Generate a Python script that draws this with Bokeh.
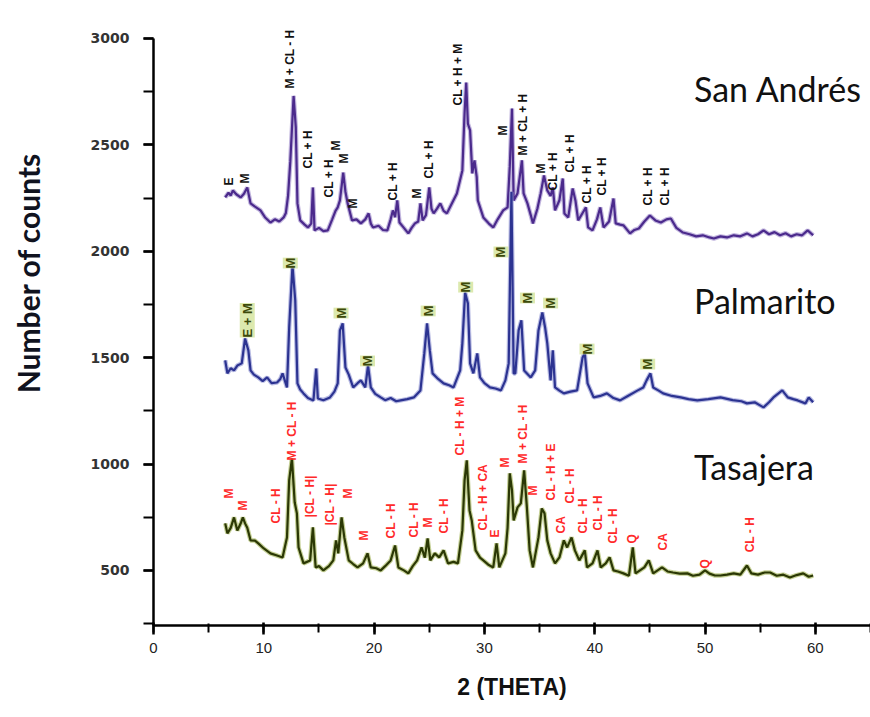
from math import pi
from bokeh.plotting import figure
from bokeh.models import Range1d, SingleIntervalTicker
from bokeh.core.properties import value
from bokeh.embed import file_html
from bokeh.resources import INLINE

# ---------------- data ----------------
sa_x = [6.5, 6.8, 7.0, 7.2, 7.5, 7.9, 8.2, 8.5, 8.8, 9.2, 9.7, 10.1, 10.6, 11.0, 11.4, 11.8, 12.0, 12.2, 12.4, 12.7,
        12.9, 13.05, 13.3, 13.7, 14.0, 14.3, 14.45, 14.6, 15.0, 15.4, 15.8, 16.2, 16.5, 16.7, 16.9, 17.2, 17.4, 17.6,
        18.0, 18.4, 18.8, 19.2, 19.5, 19.7, 19.9, 20.4, 20.8, 21.2, 21.5, 21.7, 21.9, 22.1, 22.3, 22.7, 23.1, 23.4,
        23.7, 24.0, 24.2, 24.4, 24.7, 25.0, 25.2, 25.4, 25.7, 26.0, 26.3, 26.6, 27.0, 27.5, 28.0, 28.2, 28.35, 28.5,
        28.7, 28.9, 29.1, 29.3, 29.4, 29.9, 30.4, 30.8, 31.2, 31.7, 32.1, 32.3, 32.5, 32.65, 33.0, 33.2, 33.4, 33.55,
        33.9, 34.2, 34.4, 34.8, 35.1, 35.4, 35.7, 36.0, 36.2, 36.4, 36.8, 37.1, 37.25, 37.6, 38.0, 38.25, 38.5, 38.9,
        39.2, 39.4, 39.8, 40.2, 40.5, 40.8, 41.3, 41.7, 41.9, 42.3, 42.6, 43.2, 43.6, 44.0, 44.5, 45.0, 45.5, 46.0,
        46.5, 46.9, 47.4, 48.0, 48.6, 49.2, 49.8, 50.4, 50.8, 51.4, 52.0, 52.6, 53.2, 53.8, 54.3, 54.8, 55.3, 55.8,
        56.3, 56.8, 57.3, 57.8, 58.3, 58.8, 59.3, 59.8]
sa_y = [2253, 2275, 2262, 2286, 2268, 2253, 2270, 2300, 2225, 2210, 2192, 2160, 2135, 2150, 2140, 2159, 2180, 2262, 2420, 2730,
        2582, 2225, 2145, 2125, 2112, 2130, 2300, 2098, 2110, 2095, 2098, 2150, 2190, 2206, 2239, 2370, 2280, 2225,
        2145, 2150, 2131, 2150, 2178, 2130, 2112, 2120, 2100, 2098, 2150, 2192, 2160, 2239, 2135, 2110, 2084, 2110,
        2131, 2140, 2225, 2145, 2170, 2300, 2200, 2178, 2200, 2225, 2190, 2178, 2220, 2272, 2380, 2650, 2793, 2600,
        2568, 2366, 2427, 2350, 2239, 2159, 2130, 2112, 2150, 2192, 2206, 2400, 2671, 2239, 2272, 2350, 2427, 2272,
        2225, 2170, 2131, 2200, 2272, 2356, 2286, 2260, 2300, 2192, 2240, 2342, 2178, 2159, 2295, 2239, 2145, 2180,
        2206, 2112, 2098, 2150, 2206, 2112, 2140, 2248, 2131, 2125, 2122, 2084, 2100, 2107, 2140, 2168, 2145, 2135,
        2150, 2154, 2110, 2088, 2080, 2070, 2075, 2065, 2060, 2070, 2065, 2075, 2070, 2084, 2070, 2080, 2098, 2080,
        2090, 2075, 2085, 2070, 2080, 2075, 2098, 2075]

pa_x = [6.5, 6.7, 7.0, 7.3, 7.6, 8.0, 8.3, 8.6, 8.8, 9.1, 9.5, 9.9, 10.3, 10.7, 11.2, 11.5, 11.7, 12.1, 12.3, 12.6,
        12.85, 13.05, 13.3, 13.6, 14.0, 14.5, 14.75, 14.9, 15.4, 16.0, 16.4, 16.7, 16.9, 17.15, 17.4, 17.7, 18.1,
        18.5, 18.8, 19.2, 19.45, 19.7, 20.1, 20.6, 21.0, 21.5, 22.0, 22.4, 23.0, 23.6, 24.2, 24.55, 24.8, 25.05, 25.3,
        25.8, 26.3, 26.8, 27.2, 27.8, 28.0, 28.25, 28.5, 28.7, 29.0, 29.35, 29.6, 30.0, 30.5, 31.0, 31.5, 31.9, 32.2,
        32.45, 32.65, 32.8, 33.1, 33.35, 33.6, 34.2, 34.6, 34.9, 35.25, 35.5, 35.7, 36.0, 36.2, 36.4, 36.8, 37.2,
        37.8, 38.4, 38.9, 39.1, 39.35, 39.9, 40.5, 41.1, 41.7, 42.3, 43.0, 43.9, 44.4, 44.7, 45.05, 45.3, 45.8, 46.2,
        47.0, 47.8, 48.5, 49.3, 50.3, 51.4, 52.5, 53.3, 53.8, 54.5, 55.3, 55.8, 56.2, 56.6, 57.0, 57.5, 58.0, 58.4,
        59.1, 59.4, 59.8]
pa_y = [1487, 1426, 1450, 1440, 1463, 1473, 1590, 1534, 1440, 1420, 1407, 1390, 1407, 1380, 1383, 1400, 1426, 1360, 1642, 1933,
        1769, 1379, 1350, 1332, 1310, 1299, 1449, 1308, 1300, 1313, 1340, 1379, 1628, 1661, 1454, 1420, 1360,
        1380, 1393, 1360, 1463, 1360, 1330, 1313, 1300, 1310, 1295, 1299, 1305, 1313, 1346, 1520, 1661, 1534, 1426,
        1400, 1379, 1370, 1360, 1440, 1567, 1806, 1755, 1473, 1426, 1520, 1407, 1380, 1360, 1355, 1346, 1393, 1473,
        2280, 1426, 1426, 1628, 1675, 1440, 1407, 1440, 1628, 1712, 1642, 1567, 1393, 1534, 1360, 1345, 1332,
        1340, 1346, 1501, 1520, 1379, 1313, 1320, 1332, 1310, 1299, 1320, 1346, 1360, 1393, 1426, 1360, 1345, 1332,
        1320, 1313, 1305, 1299, 1305, 1313, 1300, 1295, 1285, 1290, 1266, 1290, 1313, 1330, 1346, 1313, 1305, 1299,
        1285, 1313, 1290]

ta_x = [6.5, 6.7, 7.0, 7.3, 7.6, 7.9, 8.1, 8.3, 8.5, 8.8, 9.2, 9.5, 10.0, 10.6, 11.2, 11.7, 12.1, 12.3, 12.55, 12.8,
        13.0, 13.15, 13.6, 14.2, 14.45, 14.7, 15.0, 15.4, 15.9, 16.3, 16.55, 16.75, 17.05, 17.3, 17.7, 18.1, 18.5,
        19.0, 19.4, 19.7, 20.2, 20.6, 21.0, 21.5, 21.9, 22.2, 22.7, 23.1, 23.5, 23.9, 24.3, 24.6, 24.85, 25.1, 25.5,
        25.9, 26.3, 26.7, 27.2, 27.6, 28.0, 28.2, 28.4, 28.65, 28.85, 29.2, 29.6, 29.9, 30.4, 30.8, 31.1, 31.35, 31.9,
        32.1, 32.3, 32.5, 32.65, 33.0, 33.3, 33.6, 33.85, 34.1, 34.4, 34.9, 35.2, 35.45, 35.7, 36.0, 36.4, 36.8, 37.2,
        37.5, 37.9, 38.2, 38.6, 39.1, 39.3, 39.8, 40.25, 40.55, 41.0, 41.35, 41.7, 42.1, 42.6, 43.1, 43.45, 43.7,
        44.1, 44.5, 44.9, 45.3, 45.7, 46.1, 46.6, 47.1, 47.7, 48.4, 48.9, 49.5, 50.0, 50.4, 50.9, 51.4, 52.0, 52.6,
        53.2, 53.8, 54.2, 54.8, 55.4, 55.9, 56.5, 57.1, 57.7, 58.3, 58.9, 59.4, 59.8]
ta_y = [721, 674, 700, 749, 688, 720, 749, 721, 700, 641, 640, 627, 603, 580, 570, 561, 655, 923, 1026, 820,
        768, 608, 533, 547, 702, 514, 520, 500, 520, 547, 641, 580, 749, 655, 547, 530, 514,
        533, 580, 514, 510, 500, 520, 547, 617, 514, 500, 486, 520, 547, 608, 560, 650, 547, 580,
        561, 594, 533, 540, 533, 688, 923, 1017, 782, 735, 594, 560, 547, 525, 514, 627, 514, 580,
        700, 956, 876, 735, 796, 815, 970, 796, 594, 514, 655, 791, 768, 641, 580, 533, 561, 641,
        608, 655, 594, 547, 594, 514, 533, 594, 514, 533, 561, 500, 495, 486, 475, 608, 486,
        500, 514, 547, 486, 500, 514, 495, 490, 485, 486, 475, 480, 500, 485, 476, 476, 480, 486,
        480, 523, 486, 480, 490, 490, 475, 480, 467, 478, 486, 470, 476]

# peak annotations: text, 2theta, counts at label base
sa_lab = ["E", "M", "M + CL - H", "CL + H", "CL + H", "M", "M", "M", "CL + H", "M", "CL + H", "CL + H + M",
          "M", "M + CL + H", "M", "CL + H", "CL + H", "CL + H", "CL + H", "CL + H", "CL + H"]
sa_lx = [6.8, 8.3, 12.4, 14.0, 15.9, 16.5, 17.3, 18.1, 21.7, 23.9, 25.0, 27.6,
         31.7, 33.5, 35.1, 36.2, 37.8, 39.3, 40.7, 44.8, 46.4]
sa_ly = [2309, 2318, 2765, 2389, 2253, 2474, 2412, 2201, 2239, 2248, 2342, 2685,
         2544, 2450, 2366, 2286, 2370, 2225, 2262, 2215, 2215]

pa_lab = ["E + M", "M", "M", "M", "M", "M", "M", "M", "M", "M", "M"]
pa_lx = [8.5, 12.4, 17.0, 19.4, 24.9, 28.3, 31.5, 33.9, 36.0, 39.3, 44.8]
pa_ly = [1595, 1919, 1684, 1459, 1694, 1806, 1971, 1755, 1731, 1515, 1444]

ta_lab = ["M", "M", "CL - H", "M + CL - H", "|CL - H|", "|CL - H|", "M", "M", "CL - H", "CL - H", "M", "CL - H",
          "CL - H + M", "CL - H + CA", "E", "M", "M + CL - H", "M", "CL - H + E", "CA", "CL - H", "CL - H",
          "CL - H", "CL - H", "Q", "CA", "Q", "CL - H"]
ta_lx = [6.8, 8.1, 11.1, 12.6, 14.2, 16.0, 17.6, 19.1, 21.5, 23.6, 24.9, 26.3,
         27.8, 29.9, 31.0, 31.9, 33.5, 34.4, 36.0, 36.9, 37.8, 38.9,
         40.3, 41.7, 43.4, 46.2, 50.0, 54.1]
ta_ly = [838, 782, 721, 1017, 749, 711, 838, 641, 650, 655, 702, 674,
         1040, 688, 655, 984, 1003, 852, 829, 674, 815, 674,
         688, 627, 627, 594, 509, 585]

names = ["San Andrés", "Palmarito", "Tasajera"]
name_x = [49.0, 49.0, 49.0]
name_y = [2765, 1769, 989]

x_ticks_interval = 10
y_ticks_interval = 500

# ---------------- figure ----------------
p = figure(width=870, height=717, x_range=Range1d(0, 65), y_range=Range1d(241, 3178.6),
           output_backend="svg", toolbar_location=None,
           min_border_left=153, min_border_right=0, min_border_top=0, min_border_bottom=92)
p.outline_line_color = None
p.xgrid.visible = False
p.ygrid.visible = False
p.background_fill_color = "white"

# axes
p.xaxis.ticker = SingleIntervalTicker(interval=x_ticks_interval, num_minor_ticks=2)
p.yaxis.ticker = SingleIntervalTicker(interval=y_ticks_interval, num_minor_ticks=2)
p.yaxis.bounds = (241, 3000)
for ax in (p.xaxis, p.yaxis):
    ax.axis_line_color = "black"
    ax.axis_line_width = 2.5
    ax.major_tick_line_color = "black"
    ax.major_tick_line_width = 2.5
    ax.minor_tick_line_color = "black"
    ax.minor_tick_line_width = 2
p.xaxis.major_tick_out = 9
p.xaxis.major_tick_in = 3
p.xaxis.minor_tick_out = 7
p.xaxis.minor_tick_in = 2
p.yaxis.major_tick_out = 10
p.yaxis.major_tick_in = 0
p.yaxis.minor_tick_out = 10
p.yaxis.minor_tick_in = 0

p.xaxis.major_label_text_font = "Liberation Sans"
p.xaxis.major_label_text_font_size = "15px"
p.xaxis.major_label_text_color = "#222222"
p.xaxis.major_label_standoff = 8
p.xaxis.axis_label = "2 (THETA)"
p.xaxis.axis_label_text_font = "Liberation Sans"
p.xaxis.axis_label_text_font_style = "bold"
p.xaxis.axis_label_text_font_size = "23px"
p.xaxis.axis_label_text_color = "#111111"
p.xaxis.axis_label_standoff = 18

p.yaxis.major_label_text_font = "DejaVu Sans"
p.yaxis.major_label_text_font_size = "14px"
p.yaxis.major_label_text_color = "#333333"
p.yaxis.major_label_text_font_style = "bold"
p.yaxis.major_label_standoff = 14

# y-axis title (leading no-break spaces shift it up, as in the reference)
p.yaxis.axis_label = "\u00a0" * 11 + "Number of counts"
p.yaxis.axis_label_text_font = "Lato"
p.yaxis.axis_label_text_font_style = "bold"
p.yaxis.axis_label_text_font_size = "30px"
p.yaxis.axis_label_text_color = "#10131f"
p.yaxis.axis_label_standoff = 42

# traces (halo + core)
for xs, ys, halo, core in [(sa_x, sa_y, "#9a86c8", "#4b2a8c"),
                           (pa_x, pa_y, "#8a90d0", "#2c3391"),
                           (ta_x, ta_y, "#9fb050", "#2b3805")]:
    p.line(xs, ys, line_color=halo, line_width=4.5, line_alpha=0.6)
    p.line(xs, ys, line_color=core, line_width=2.2)

# peak annotations
p.text(x=sa_lx, y=sa_ly, text=sa_lab, angle=pi / 2, text_align="left", text_baseline="middle",
       text_font=value("Liberation Sans"), text_font_style="bold", text_font_size="12px",
       text_color="#111111")
p.text(x=pa_lx, y=pa_ly, text=pa_lab, angle=pi / 2, text_align="left", text_baseline="middle",
       text_font=value("Liberation Sans"), text_font_style="bold", text_font_size="13px",
       text_color="#3d4a0a", background_fill_color="#d3e49a", background_fill_alpha=0.8)
p.text(x=ta_lx, y=ta_ly, text=ta_lab, angle=pi / 2, text_align="left", text_baseline="middle",
       text_font=value("Liberation Sans"), text_font_style="bold", text_font_size="12px",
       text_color="#ff2a2a")

# sample names
p.text(x=name_x, y=name_y, text=names, text_align="left", text_baseline="middle",
       text_font=value("Lato"), text_font_size="34px", text_color="#111111")

open("out.html", "w").write(file_html(p, INLINE))
